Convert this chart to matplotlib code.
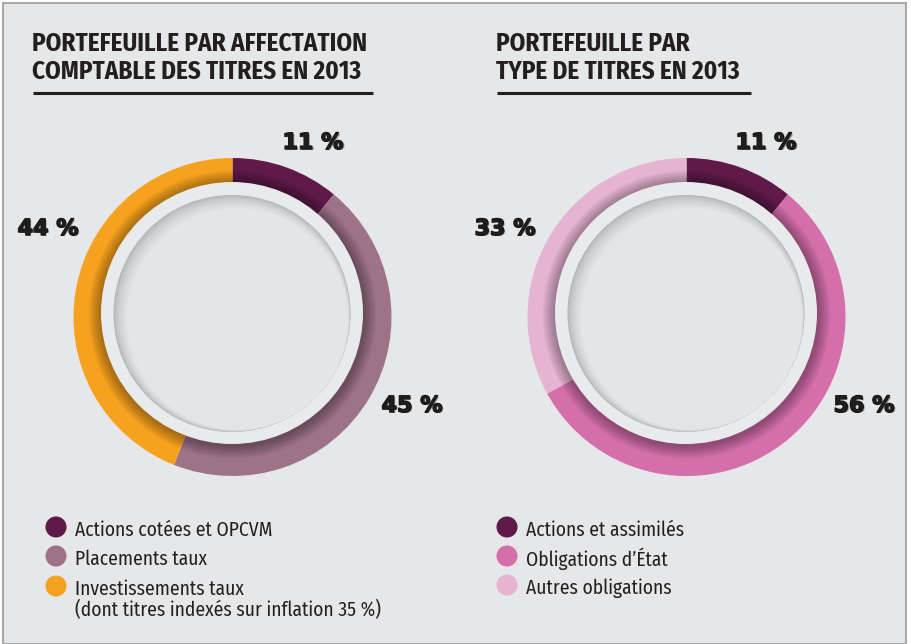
import matplotlib
matplotlib.use("Agg")
import matplotlib.pyplot as plt
from matplotlib.patches import Circle, Rectangle
import matplotlib.patheffects as pe
import matplotlib.font_manager as fm
import numpy as np

# ---- data ----
left_title = "PORTEFEUILLE PAR AFFECTATION\nCOMPTABLE DES TITRES EN 2013"
left_labels = ["Actions cotées et OPCVM", "Placements taux",
               "Investissements taux\n(dont titres indexés sur inflation 35 %)"]
left_values = [11, 45, 44]
left_colors = ["#5f1a4a", "#9e7388", "#f7a21e"]

right_title = "PORTEFEUILLE PAR\nTYPE DE TITRES EN 2013"
right_labels = ["Actions et assimilés", "Obligations d’État", "Autres obligations"]
right_values = [11, 56, 33]
right_colors = ["#5f1a4a", "#d46fab", "#e6b4d3"]

AVAILABLE = set(f.name for f in fm.fontManager.ttflist)
CANDIDATES = ["Roboto Condensed", "Barlow Condensed", "Barlow Semi Condensed",
              "Fira Sans Condensed", "Fira Sans Extra Condensed", "Archivo Narrow",
              "IBM Plex Sans Condensed", "Encode Sans Condensed", "Sofia Sans Condensed",
              "Asap Condensed", "PT Sans Narrow", "Saira Condensed"]

W, H = 912, 644
fig = plt.figure(figsize=(W / 100, H / 100), dpi=100, facecolor="white")
ax = fig.add_axes([0, 0, 1, 1])
renderer = fig.canvas.get_renderer()

def best_font(sample, size, weight, target_w):
    best, err = "Roboto Condensed", 1e9
    for c in CANDIDATES:
        if c not in AVAILABLE:
            continue
        t = ax.text(0, 0, sample, fontsize=size, family=c, fontweight=weight)
        w = t.get_window_extent(renderer).width
        t.remove()
        if abs(w - target_w) < err:
            best, err = c, abs(w - target_w)
    return best

TITLE_SIZE, LEG_SIZE = 18, 14
TITLE_FONT = best_font("PORTEFEUILLE PAR AFFECTATION", TITLE_SIZE, "bold", 338)
LEG_FONT = best_font("Actions cotées et OPCVM", LEG_SIZE, "normal", 195)

def Y(py):
    return H - py

BG = "#e6e7e8"
TXT = "#231f20"

def donut(cx, cy, values, colors, label_pos):
    R = 159
    ax.pie(values, colors=colors, startangle=90, counterclock=False,
           center=(cx + 0.5, Y(cy + 4)), radius=R,
           wedgeprops=dict(edgecolor="none", linewidth=0))
    outer = Circle((cx + 0.5, Y(cy + 4)), R, facecolor="none", edgecolor="none")
    ax.add_patch(outer)
    r_in = 131
    for k in range(10, 0, -1):
        s = Circle((cx + 0.5, Y(cy) - 1.5), r_in + k * 1.3, facecolor="black",
                   alpha=0.035, edgecolor="none", zorder=2.5)
        ax.add_patch(s)
        s.set_clip_path(outer)
    ax.add_patch(Circle((cx, Y(cy)), r_in, facecolor="#e9eaeb", edgecolor="none", zorder=3))
    rd = 118.5
    clip = Circle((cx, Y(cy + 0.5)), rd, facecolor="#b3b4b6", edgecolor="none", zorder=4)
    ax.add_patch(clip)
    n = 16
    c0 = np.array([0xb3, 0xb4, 0xb6]) / 255
    c1 = np.array([0xe4, 0xe5, 0xe6]) / 255
    for i in range(1, n + 1):
        t = i / n
        col = c0 + (c1 - c0) * (t ** 0.6)
        off = 0.35 * i
        c = Circle((cx + off, Y(cy + 0.5) - off), rd - 0.5 * i, facecolor=col,
                   edgecolor="none", zorder=4 + i * 0.01)
        ax.add_patch(c)
        c.set_clip_path(clip)
    for v, (lx, ly) in zip(values, label_pos):
        ax.text(lx + 1.2, Y(ly) - 1.2, f"{v} %", ha="center", va="center", fontsize=16,
                fontweight="heavy", family="DejaVu Sans", color="#8a8a8a", zorder=9)
        ax.text(lx, Y(ly), f"{v} %", ha="center", va="center", fontsize=16,
                fontweight="heavy", family="DejaVu Sans", color="#1e1e1e",
                zorder=10,
                path_effects=[pe.withStroke(linewidth=1.0, foreground="#111111")])

ax.add_patch(Rectangle((3, 0), 903, Y(3), facecolor=BG, edgecolor="#a7a9ab",
                       linewidth=1.5, zorder=0))

donut(232, 313, left_values, left_colors, [(313, 143), (412, 406), (48, 229)])
donut(686, 313, right_values, right_colors, [(766, 143), (864, 406), (505, 229)])

for x0, x1, title in [(33, 373, left_title), (497, 751, right_title)]:
    lines = title.split("\n")
    for j, line in enumerate(lines):
        ax.text(x0 - 1, Y(44 + 28 * j), line, ha="left", va="center", fontsize=TITLE_SIZE,
                family=TITLE_FONT, fontweight="bold", color=TXT, zorder=10)
    ax.plot([x0, x1], [Y(93), Y(93)], color=TXT, linewidth=2.2,
            solid_capstyle="butt", zorder=10)

def legend(x, ys, labels, colors):
    for yy, lab, col in zip(ys, labels, colors):
        ax.scatter([x], [Y(yy)], s=230, color=col, edgecolors="none", zorder=10)
        for j, line in enumerate(lab.split("\n")):
            ax.text(x + 19, Y(yy + 3 + 21 * j), line, ha="left", va="center",
                    fontsize=LEG_SIZE, family=LEG_FONT, color=TXT, zorder=10)

legend(56, [527, 556, 586], left_labels, left_colors)
legend(507, [527, 556, 585], right_labels, right_colors)

ax.set_xlim(0, W)
ax.set_ylim(0, H)
ax.set_aspect("auto")
ax.axis("off")

fig.savefig("out.png", dpi=100, facecolor="white")
